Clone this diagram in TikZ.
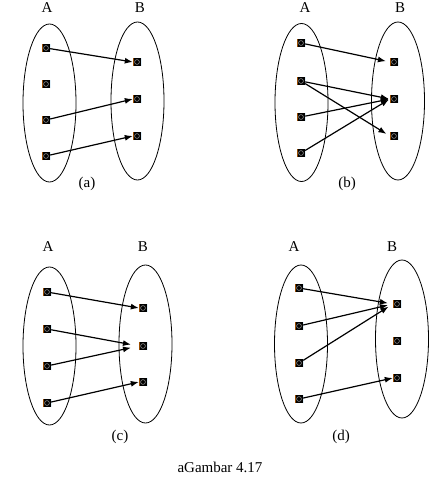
\documentclass[tikz,border=0pt]{standalone}
\usepackage{fontspec}
\setmainfont{Liberation Serif}
\usepackage{tikz}
\usetikzlibrary{shapes.geometric,arrows.meta,positioning}

\begin{document}
\begin{tikzpicture}[x=1pt, y=-1pt,
    set/.style={ellipse, draw, line width=0.8pt, minimum width=53pt, minimum height=158pt, inner sep=0pt},
    pt/.style={rectangle, fill=black, minimum size=8pt, inner sep=0pt,
        path picture={
            \draw[gray!70, line width=0.5pt] (path picture bounding box.center) circle (2.4pt);
            \draw[orange!60!black, line width=0.5pt] (path picture bounding box.south west) -- (path picture bounding box.north west);
            \draw[cyan!70!blue, line width=0.5pt] (path picture bounding box.south east) -- (path picture bounding box.north east);
        }},
    lbl/.style={font=\fontsize{15}{17}\selectfont, inner sep=0pt},
    map/.style={-{Latex[length=8pt, width=6pt]}, line width=1.2pt},
    >=Latex
]
    \useasboundingbox (0,0) rectangle (443,487);

    % (a)
    \node[lbl] (la) at (47,8) {A};
    \node[lbl] (lb) at (140,8) {B};
    \node[set] (sa) at (49.5,103) {};
    \node[set] (sb) at (137.5,101) {};
    \node[pt] (a1) at (46,48) {};
    \node[pt] (a2) at (46,84) {};
    \node[pt] (a3) at (46,120) {};
    \node[pt] (a4) at (46,156) {};
    \node[pt] (b1) at (137,62) {};
    \node[pt] (b2) at (137,99) {};
    \node[pt] (b3) at (137,136) {};
    \node[lbl] (capa) at (87,184) {(a)};
    \draw[map] (a1) -- (b1.west);
    \draw[map] (a3) -- (b2.west);
    \draw[map] (a4) -- (b3.west);

    % (b)
    \node[lbl] (la) at (305,8) {A};
    \node[lbl] (lb) at (400,8) {B};
    \node[set] (sa) at (301.5,102.5) {};
    \node[set] (sb) at (398,101) {};
    \node[pt] (a1) at (301,43) {};
    \node[pt] (a2) at (301,81) {};
    \node[pt] (a3) at (301,117) {};
    \node[pt] (a4) at (301,153) {};
    \node[pt] (b1) at (394,62) {};
    \node[pt] (b2) at (394,99) {};
    \node[pt] (b3) at (394,136) {};
    \node[lbl] (capb) at (347,184) {(b)};
    \draw[map, shorten >=4pt] (a1) -- (b1.west);
    \draw[map, shorten >=1pt] (a2) -- (b2.west);
    \draw[map, shorten >=4pt] (a2) -- (b3.west);
    \draw[map, shorten >=1pt] (a3) -- (b2.west);
    \draw[map, shorten >=1pt] (a4) -- (b2.west);

    % (c)
    \node[lbl] (la) at (48,247) {A};
    \node[lbl] (lb) at (143,247) {B};
    \node[set] (sa) at (49.5,346) {};
    \node[set] (sb) at (145.5,344) {};
    \node[pt] (a1) at (47,292) {};
    \node[pt] (a2) at (47,329) {};
    \node[pt] (a3) at (47,366) {};
    \node[pt] (a4) at (47,403) {};
    \node[pt] (b1) at (143,308) {};
    \node[pt] (b2) at (143,346) {};
    \node[pt] (b3) at (143,382) {};
    \node[lbl] (capc) at (120,437) {(c)};
    \draw[map] (a1) -- (b1.west);
    \draw[map, shorten >=8pt] (a2) -- (b2.west);
    \draw[map, shorten >=8pt] (a3) -- (b2.west);
    \draw[map] (a4) -- (b3.west);

    % (d)
    \node[lbl] (la) at (294,247) {A};
    \node[lbl] (lb) at (392,247) {B};
    \node[set] (sa) at (301,344) {};
    \node[set] (sb) at (402,339) {};
    \node[pt] (a1) at (299,288) {};
    \node[pt] (a2) at (299,326) {};
    \node[pt] (a3) at (299,363) {};
    \node[pt] (a4) at (299,399) {};
    \node[pt] (b1) at (397,304) {};
    \node[pt] (b2) at (397,341) {};
    \node[pt] (b3) at (397,378) {};
    \node[lbl] (capd) at (341,437) {(d)};
    \draw[map, shorten >=5pt] (a1) -- (b1.west);
    \draw[map, shorten >=5pt] (a2) -- (b1.west);
    \draw[map, shorten >=5pt] (a3) -- (b1.west);
    \draw[map] (a4) -- (b3.west);

    \node[lbl] (fig) at (220,467) {aGambar 4.17};
\end{tikzpicture}
\end{document}
